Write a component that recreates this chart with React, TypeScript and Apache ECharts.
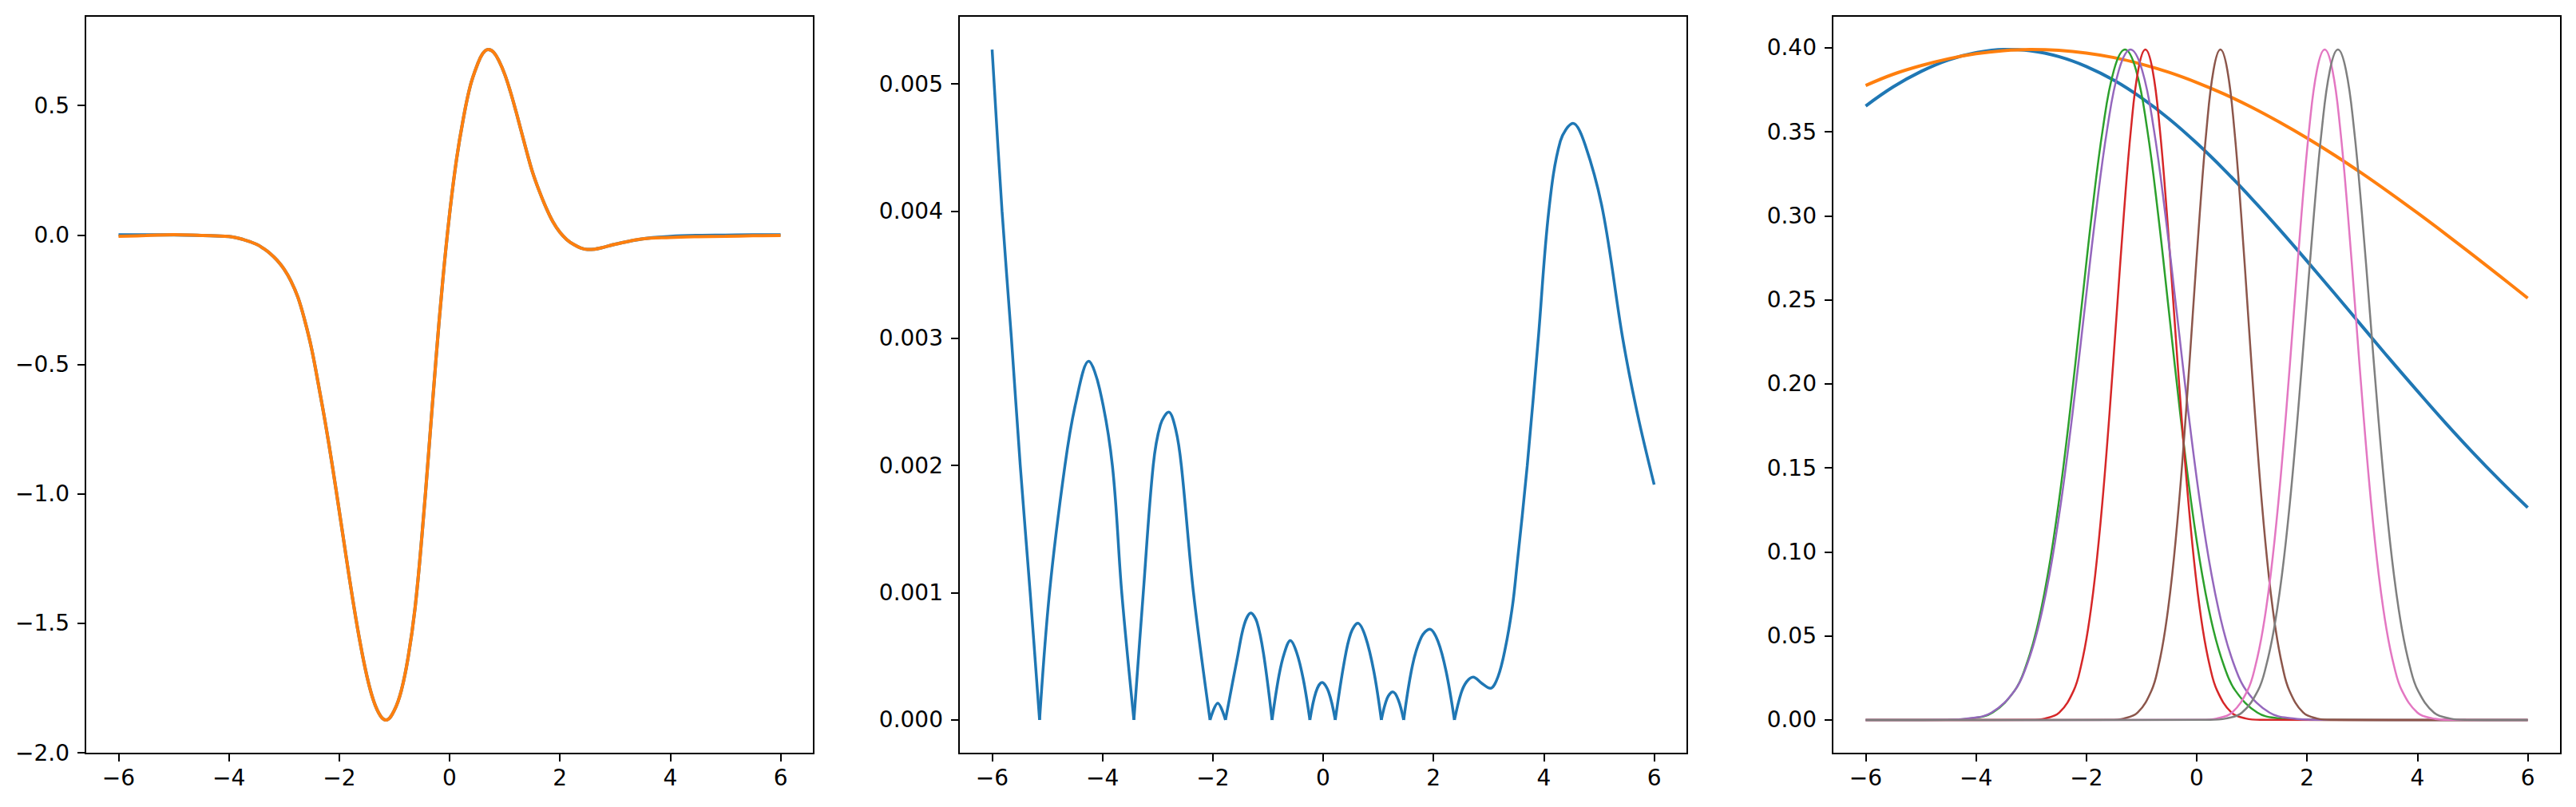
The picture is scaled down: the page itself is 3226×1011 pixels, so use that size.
import React, { useEffect, useRef } from "react";
import * as echarts from "echarts";

// ---------- tick values ----------
const xTicks = [-6, -4, -2, 0, 2, 4, 6];
const p1YTicks = [-2, -1.5, -1, -0.5, 0, 0.5];
const p2YTicks = [0, 0.001, 0.002, 0.003, 0.004, 0.005];
const p3YTicks = [0, 0.05, 0.1, 0.15, 0.2, 0.25, 0.3, 0.35, 0.4];

// ---------- panel 1: target vs approximation ----------
const fX = [-6, -5.5, -5, -4.5, -4, -3.75, -3.5, -3.375, -3.25, -3.125, -3, -2.875, -2.75, -2.625, -2.5, -2.375, -2.25, -2.125, -2, -1.875, -1.75, -1.625, -1.5, -1.375, -1.25, -1.15, -1, -0.875, -0.75, -0.625, -0.5, -0.375, -0.25, -0.125, 0, 0.125, 0.25, 0.375, 0.5, 0.6, 0.7, 0.8, 0.9, 1, 1.1, 1.2, 1.3, 1.4, 1.5, 1.625, 1.75, 1.875, 2, 2.125, 2.25, 2.375, 2.5, 2.625, 2.75, 3, 3.5, 4, 4.5, 5, 5.5, 6];
const targetY = [0, 0, 0, -0.002, -0.006, -0.017, -0.036, -0.052, -0.072, -0.098, -0.132, -0.178, -0.24, -0.33, -0.44, -0.58, -0.728, -0.891, -1.065, -1.242, -1.414, -1.57, -1.702, -1.8, -1.858, -1.873, -1.835, -1.76, -1.63, -1.44, -1.16, -0.83, -0.49, -0.18, 0.08, 0.29, 0.45, 0.575, 0.655, 0.7, 0.716, 0.705, 0.67, 0.62, 0.555, 0.48, 0.4, 0.32, 0.245, 0.17, 0.105, 0.05, 0.01, -0.018, -0.037, -0.05, -0.056, -0.055, -0.05, -0.036, -0.015, -0.006, -0.002, -0.001, 0, 0];
const approxY = [-0.0053, -0.0025, 0.001, -0.002, -0.006, -0.017, -0.036, -0.052, -0.072, -0.098, -0.132, -0.178, -0.24, -0.33, -0.44, -0.58, -0.728, -0.891, -1.065, -1.242, -1.414, -1.57, -1.702, -1.8, -1.858, -1.873, -1.835, -1.76, -1.63, -1.44, -1.16, -0.83, -0.49, -0.18, 0.08, 0.29, 0.45, 0.575, 0.655, 0.7, 0.716, 0.705, 0.67, 0.62, 0.555, 0.48, 0.4, 0.32, 0.245, 0.17, 0.105, 0.05, 0.01, -0.018, -0.037, -0.05, -0.056, -0.055, -0.05, -0.036, -0.015, -0.0095, -0.0067, -0.0053, -0.0032, -0.0019];

// ---------- panel 2: absolute error ----------
const errX = [-6, -5.82, -5.65, -5.49, -5.31, -5.14,
  -4.96, -4.68, -4.48, -4.25, -4.05, -3.82, -3.65, -3.43,
  -3.26, -3.08, -2.95, -2.8, -2.67, -2.57, -2.35, -2.05,
  -1.91, -1.77,
  -1.55, -1.43, -1.31, -1.2, -1.08, -0.926,
  -0.8, -0.7, -0.595, -0.48, -0.36, -0.24,
  -0.13, -0.02, 0.1, 0.22,
  0.38, 0.5, 0.628, 0.77, 0.92, 1.055,
  1.16, 1.26, 1.36, 1.46,
  1.62, 1.78, 1.93, 2.08, 2.23, 2.38,
  2.5, 2.6, 2.72, 2.87, 3.03, 3.17, 3.3, 3.43, 3.51, 3.7, 3.9, 4.09, 4.3, 4.53, 4.75, 5.07, 5.43, 5.7, 6];
const errY = [0.00527, 0.004, 0.003, 0.002, 0.001, 0,
  0.001, 0.002, 0.0025, 0.00282, 0.0026, 0.002, 0.001, 0,
  0.001, 0.002, 0.00232, 0.00242, 0.00228, 0.002, 0.001, 0,
  0.000132, 0,
  0.0005, 0.00075, 0.00084, 0.00077, 0.00052, 0,
  0.00035, 0.00053, 0.000624, 0.00053, 0.00032, 0,
  0.00022, 0.000295, 0.00022, 0,
  0.00045, 0.00068, 0.00076, 0.00065, 0.00038, 0,
  0.00017, 0.00022, 0.00016, 0,
  0.00043, 0.00065, 0.000714, 0.00062, 0.00038, 0,
  0.00021, 0.0003, 0.000337, 0.00029, 0.000249, 0.00034, 0.00056, 0.00089, 0.0012, 0.002, 0.003, 0.004, 0.00455, 0.00469, 0.00452, 0.004, 0.003, 0.0024, 0.00185];

// ---------- panel 3: basis functions ----------
const broadX = [-6, -5.5, -5, -4.5, -4, -3.5, -3, -2.5, -2, -1.5, -1, -0.5, 0, 0.5, 1, 1.5, 2, 2.5, 3, 3.5, 4, 4.5, 5, 5.5, 6];
const blueY = [0.3653, 0.3767, 0.3858, 0.3927, 0.397, 0.3989, 0.3981, 0.3947, 0.3888, 0.3806, 0.3701, 0.3576, 0.3432, 0.3273, 0.3101, 0.2919, 0.273, 0.2537, 0.2342, 0.2147, 0.1957, 0.1771, 0.1593, 0.1424, 0.1264];
const orangeY = [0.3775, 0.3842, 0.3893, 0.3934, 0.3964, 0.3982, 0.3989, 0.3984, 0.3968, 0.3941, 0.3902, 0.3853, 0.3793, 0.3724, 0.3645, 0.3557, 0.3462, 0.336, 0.3251, 0.3136, 0.3017, 0.2894, 0.2768, 0.264, 0.251];
const bumpY = [0, 0.0001, 0.0009, 0.0044, 0.0175, 0.0317, 0.054, 0.0863, 0.1295, 0.1826, 0.242, 0.3011, 0.3521, 0.3867, 0.3989, 0.3867, 0.3521, 0.3011, 0.242, 0.1826, 0.1295, 0.0863, 0.054, 0.0317, 0.0175, 0.0044, 0.0009, 0.0001, 0];
const greenX = [-6, -4.5, -4.1, -3.7, -3.3, -3.1, -2.9, -2.7, -2.5, -2.3, -2.1, -1.9, -1.7, -1.5, -1.3, -1.1, -0.9, -0.7, -0.5, -0.3, -0.1, 0.1, 0.3, 0.5, 0.7, 1.1, 1.5, 1.9, 6];
const redX = [-6, -3.01, -2.75, -2.49, -2.23, -2.1, -1.97, -1.84, -1.71, -1.58, -1.45, -1.32, -1.19, -1.06, -0.93, -0.8, -0.67, -0.54, -0.41, -0.28, -0.15, -0.02, 0.11, 0.24, 0.37, 0.63, 0.89, 1.15, 6];
const purpleX = [-6, -4.56, -4.14, -3.72, -3.3, -3.09, -2.88, -2.67, -2.46, -2.25, -2.04, -1.83, -1.62, -1.41, -1.2, -0.99, -0.78, -0.57, -0.36, -0.15, 0.06, 0.27, 0.48, 0.69, 0.9, 1.32, 1.74, 2.16, 6];
const brownX = [-6, -1.57, -1.32, -1.07, -0.82, -0.695, -0.57, -0.445, -0.32, -0.195, -0.07, 0.055, 0.18, 0.305, 0.43, 0.555, 0.68, 0.805, 0.93, 1.055, 1.18, 1.305, 1.43, 1.555, 1.68, 1.93, 2.18, 2.43, 6];
const pinkX = [-6, 0.08, 0.36, 0.64, 0.92, 1.06, 1.2, 1.34, 1.48, 1.62, 1.76, 1.9, 2.04, 2.18, 2.32, 2.46, 2.6, 2.74, 2.88, 3.02, 3.16, 3.3, 3.44, 3.58, 3.72, 4.0, 4.28, 4.56, 6];
const grayX = [-6, 0.24, 0.53, 0.82, 1.11, 1.255, 1.4, 1.545, 1.69, 1.835, 1.98, 2.125, 2.27, 2.415, 2.56, 2.705, 2.85, 2.995, 3.14, 3.285, 3.43, 3.575, 3.72, 3.865, 4.01, 4.3, 4.59, 4.88, 6];

const C = ["#1f77b4", "#ff7f0e", "#2ca02c", "#d62728", "#9467bd", "#8c564b", "#e377c2", "#7f7f7f"];

const zip = (xs: number[], ys: number[]) => xs.map((x, i) => [x, ys[i]]);

const fmt = (d: number) => (v: number) => {
  const s = Math.abs(v).toFixed(d);
  return (v < -1e-12 ? "\u2212" : "") + s;
};

const FONT = "DejaVu Sans";

function xAxisFor(gi: number) {
  return {
    type: "value",
    gridIndex: gi,
    min: -6.6,
    max: 6.6,
    position: "bottom",
    splitLine: { show: false },
    axisLine: { show: true, onZero: false, lineStyle: { color: "#000", width: 2 } },
    axisTick: { show: true, inside: false, length: 10, customValues: xTicks, lineStyle: { color: "#000", width: 2 } },
    axisLabel: {
      customValues: xTicks,
      formatter: fmt(0),
      fontSize: 28,
      fontFamily: FONT,
      color: "#000",
      margin: 16,
    },
  };
}

function yAxisFor(gi: number, min: number, max: number, ticks: number[], d: number) {
  return {
    type: "value",
    gridIndex: gi,
    min,
    max,
    position: "left",
    splitLine: { show: false },
    axisLine: { show: true, onZero: false, lineStyle: { color: "#000", width: 2 } },
    axisTick: { show: true, inside: false, length: 10, customValues: ticks, lineStyle: { color: "#000", width: 2 } },
    axisLabel: {
      customValues: ticks,
      formatter: fmt(d),
      fontSize: 28,
      fontFamily: FONT,
      color: "#000",
      margin: 20,
    },
  };
}

function line(xi: number, data: number[][], color: string, width: number, smooth: number | boolean = 0.4) {
  return {
    type: "line",
    xAxisIndex: xi,
    yAxisIndex: xi,
    data,
    smooth,
    symbol: "none",
    lineStyle: { color, width },
    itemStyle: { color },
    silent: true,
  };
}

function errArches(): number[][][] {
  const arches: number[][][] = [];
  let cur: number[][] = [];
  errX.forEach((x, i) => {
    const p = [x, errY[i]];
    cur.push(p);
    if (errY[i] === 0 && cur.length > 1) {
      arches.push(cur);
      cur = [p];
    }
  });
  if (cur.length > 1) arches.push(cur);
  return arches;
}

export default function App() {
  const ref = useRef<HTMLDivElement>(null);
  useEffect(() => {
    if (!ref.current) return;
    const chart = echarts.init(ref.current, undefined, { renderer: "svg" });
    const gridBase = { top: 20, width: 912, height: 924, show: true, borderColor: "#000", borderWidth: 2, backgroundColor: "#fff" };
    const series: any[] = [];
    series.push(line(0, zip(fX, targetY), C[0], 4));
    series.push(line(0, zip(fX, approxY), C[1], 4));
    errArches().forEach((a) => series.push(line(1, a, C[0], 3.5, 0.35)));
    series.push(line(2, zip(broadX, blueY), C[0], 4));
    series.push(line(2, zip(broadX, orangeY), C[1], 4));
    series.push(line(2, zip(greenX, bumpY), C[2], 2.5));
    series.push(line(2, zip(redX, bumpY), C[3], 2.5));
    series.push(line(2, zip(purpleX, bumpY), C[4], 2.5));
    series.push(line(2, zip(brownX, bumpY), C[5], 2.5));
    series.push(line(2, zip(pinkX, bumpY), C[6], 2.5));
    series.push(line(2, zip(grayX, bumpY), C[7], 2.5));

    chart.setOption({
      animation: false,
      backgroundColor: "#fff",
      grid: [
        { ...gridBase, left: 107 },
        { ...gridBase, left: 1201 },
        { ...gridBase, left: 2295 },
      ],
      xAxis: [xAxisFor(0), xAxisFor(1), xAxisFor(2)],
      yAxis: [
        yAxisFor(0, -2.0025, 0.8455, p1YTicks, 1),
        yAxisFor(1, -0.000264, 0.005534, p2YTicks, 3),
        yAxisFor(2, -0.01995, 0.41887, p3YTicks, 2),
      ],
      series,
    });
    return () => chart.dispose();
  }, []);
  return (
    <div
      ref={ref}
      style={{ position: "absolute", left: 0, top: 0, width: 3226, height: 1011, background: "#fff" }}
    />
  );
}
